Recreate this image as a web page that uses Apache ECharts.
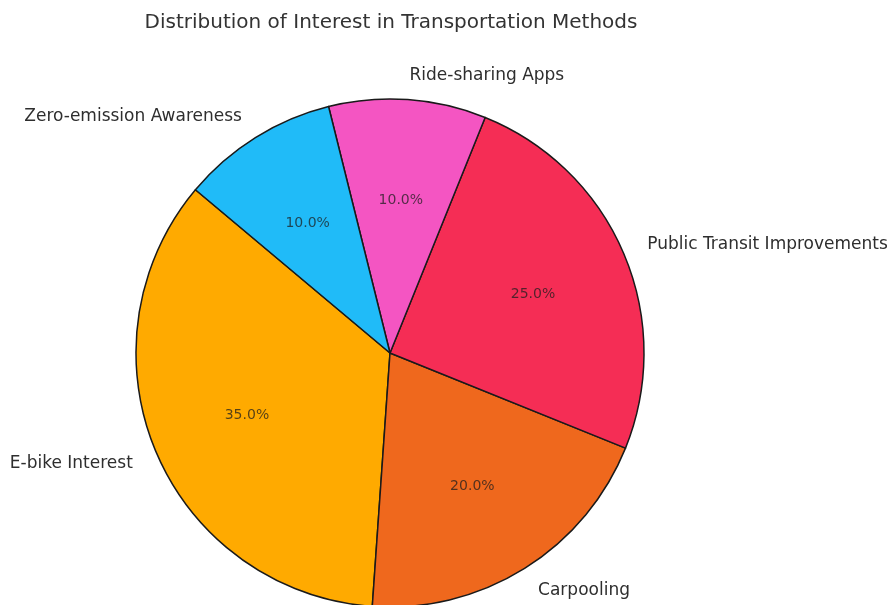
<!DOCTYPE html>
<html>
<head>
<meta charset="utf-8">
<script src="https://cdn.jsdelivr.net/npm/echarts@6/dist/echarts.min.js"></script>
<style>
  html, body { margin: 0; padding: 0; background: #fff; }
  #chart { width: 896px; height: 605px; }
</style>
</head>
<body>
<div id="chart"></div>
<script>
// Transportation interest shares (percent), listed counter-clockwise from the start angle
const categories = ['E-bike Interest', 'Carpooling', 'Public Transit Improvements', 'Ride-sharing Apps', 'Zero-emission Awareness'];
const shares = [35, 20, 25, 10, 10];
const sliceColors = ['#FFAA00', '#EF681D', '#F52D55', '#F455C2', '#20BBF8'];

const FONT = 'DejaVu Sans';
const CX = 390, CY = 353, R = 254;

const pieData = categories.map((name, i) => ({
  name: name,
  value: shares[i],
  itemStyle: { color: sliceColors[i] }
}));

const chart = echarts.init(document.getElementById('chart'), null, { renderer: 'canvas' });
chart.setOption({
  animation: false,
  backgroundColor: '#ffffff',
  title: {
    text: 'Distribution of Interest in Transportation Methods',
    left: 386,
    top: 8,
    textAlign: 'center',
    textStyle: { fontFamily: FONT, fontSize: 20, fontWeight: 'normal', color: '#333333' }
  },
  series: [
    {
      // wedges with category names outside the rim
      type: 'pie',
      center: [CX, CY],
      radius: [0, R],
      startAngle: 140,
      clockwise: false,
      avoidLabelOverlap: false,
      silent: true,
      data: pieData,
      itemStyle: { borderColor: '#1a1a1a', borderWidth: 1.5 },
      label: {
        show: true,
        position: 'outside',
        formatter: '{b}',
        fontFamily: FONT,
        fontSize: 17,
        color: '#2e2e2e',
        distanceToLabelLine: 0,
        offset: [0, 1]
      },
      labelLine: { show: false, length: R * 0.1, length2: 0 }
    },
    {
      // percentage labels placed at 0.6 of the radius
      type: 'pie',
      center: [CX, CY],
      radius: [R * 0.2, R],
      startAngle: 140,
      clockwise: false,
      avoidLabelOverlap: false,
      silent: true,
      data: pieData.map(d => ({ name: d.name, value: d.value })),
      itemStyle: { color: 'rgba(0,0,0,0)', borderWidth: 0 },
      label: {
        show: true,
        position: 'inside',
        formatter: p => p.value.toFixed(1) + '%',
        fontFamily: FONT,
        fontSize: 14,
        color: 'rgba(30,30,30,0.75)',
        offset: [0, 2]
      },
      labelLine: { show: false }
    }
  ]
});
</script>
</body>
</html>
